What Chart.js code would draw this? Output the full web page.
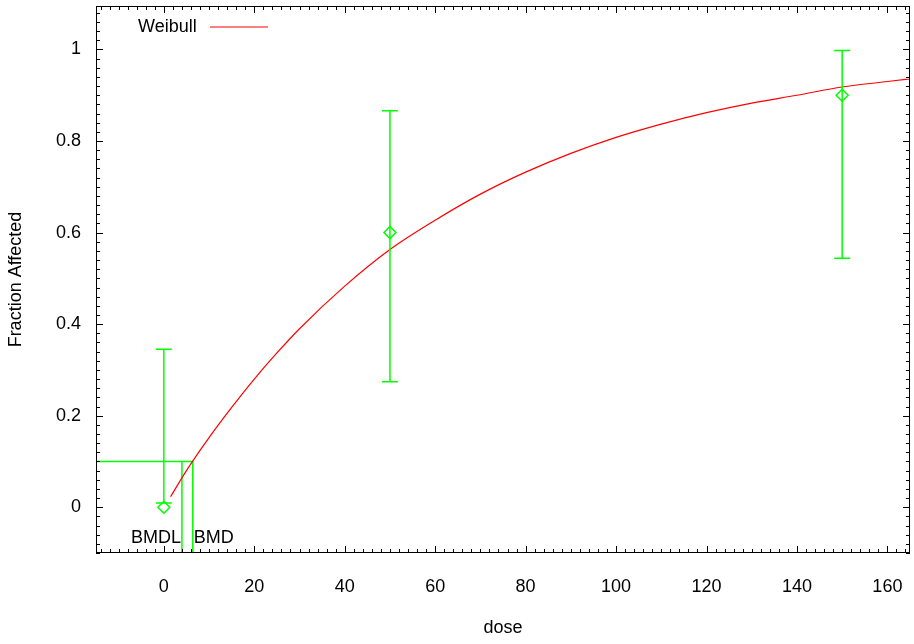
<!DOCTYPE html>
<html>
<head>
<meta charset="utf-8">
<script src="https://cdn.jsdelivr.net/npm/chart.js@4.4.0/dist/chart.umd.min.js"></script>
<style>
  html, body { margin: 0; padding: 0; background: #fff; }
  #wrap { width: 914px; height: 644px; }
</style>
</head>
<body>
<div id="wrap"><canvas id="myChart" width="914" height="644"></canvas></div>
<script>
// observed data (dose, fraction affected, confidence limits)
const doses = [0, 50, 150];
const fractions = [0, 0.6, 0.9];
const lowerCI = [0.009, 0.274, 0.544];
const upperCI = [0.345, 0.866, 0.998];

// fitted Weibull curve
const curveDose = [1.5, 5, 10, 15, 20, 25, 30, 40, 50, 60, 70, 80, 90, 100, 110, 120, 130, 140, 150, 160, 165];
const curveFrac = [0.023, 0.08, 0.152, 0.218, 0.28, 0.337, 0.39, 0.483, 0.563, 0.627, 0.684, 0.732, 0.773,
                   0.808, 0.837, 0.862, 0.883, 0.900, 0.918, 0.930, 0.936];

// benchmark dose lines
const bmr = 0.1;
const bmd = 6.4;
const bmdl = 4.0;

const xTicks = [0, 20, 40, 60, 80, 100, 120, 140, 160];
const yTicks = [0, 0.2, 0.4, 0.6, 0.8, 1];

const green = 'rgb(0,255,0)';
const red = 'rgb(255,0,0)';
const FONT = 'Liberation Sans, Arial, sans-serif';

// frame, inward ticks on all sides, error bars, BMD labels, legend
const gnuplotLook = {
  id: 'gnuplotLook',
  afterDatasetsDraw(chart) {
    const ctx = chart.ctx;
    const a = chart.chartArea;
    const xs = chart.scales.x, ys = chart.scales.y;
    ctx.save();

    // error bars
    ctx.strokeStyle = green;
    ctx.lineWidth = 1.5;
    doses.forEach((d, i) => {
      const px = xs.getPixelForValue(d);
      const top = ys.getPixelForValue(upperCI[i]);
      const bot = ys.getPixelForValue(lowerCI[i]);
      ctx.beginPath();
      ctx.moveTo(px, top); ctx.lineTo(px, bot);
      ctx.moveTo(px - 8, top); ctx.lineTo(px + 8, top);
      ctx.moveTo(px - 8, bot); ctx.lineTo(px + 8, bot);
      ctx.stroke();
    });

    // frame
    ctx.strokeStyle = '#000';
    ctx.lineWidth = 1;
    ctx.strokeRect(Math.round(a.left) + 0.5, Math.round(a.top) + 0.5,
                   Math.round(a.right - a.left) - 1, Math.round(a.bottom - a.top) - 1);

    // x ticks
    ctx.beginPath();
    for (let v = -14; v <= 164; v += 2) {
      const px = Math.round(xs.getPixelForValue(v)) + 0.5;
      const len = (v % 20 === 0) ? 7 : 4;
      ctx.moveTo(px, a.bottom); ctx.lineTo(px, a.bottom - len);
      ctx.moveTo(px, a.top); ctx.lineTo(px, a.top + len);
    }
    // y ticks
    for (let k = -5; k <= 54; k++) {
      const v = k * 0.02;
      const py = Math.round(ys.getPixelForValue(v)) + 0.5;
      const len = (k % 10 === 0) ? 7 : 4;
      ctx.moveTo(a.left, py); ctx.lineTo(a.left + len, py);
      ctx.moveTo(a.right, py); ctx.lineTo(a.right - len, py);
    }
    ctx.stroke();

    // BMD / BMDL labels
    ctx.fillStyle = '#000';
    ctx.font = '18px ' + FONT;
    ctx.textBaseline = 'middle';
    const ly = ys.getPixelForValue(-0.068);
    ctx.textAlign = 'right';
    ctx.fillText('BMDL', xs.getPixelForValue(bmdl) - 1, ly);
    ctx.textAlign = 'left';
    ctx.fillText('BMD', xs.getPixelForValue(bmd) + 1, ly);

    // legend
    ctx.textAlign = 'left';
    ctx.fillText(chart.data.datasets[0].label, 138, 27);
    ctx.strokeStyle = red;
    ctx.lineWidth = 1.2;
    ctx.beginPath();
    ctx.moveTo(210, 27); ctx.lineTo(268, 27);
    ctx.stroke();

    ctx.restore();
  }
};

function noPad(s) {
  s.paddingTop = 0; s.paddingBottom = 0;
  s.paddingLeft = 0; s.paddingRight = 0;
}

const ctx = document.getElementById('myChart').getContext('2d');
new Chart(ctx, {
  type: 'scatter',
  data: {
    datasets: [
      {
        label: 'Weibull',
        type: 'line',
        data: curveDose.map((d, i) => ({ x: d, y: curveFrac[i] })),
        borderColor: red,
        borderWidth: 1.2,
        pointRadius: 0,
        fill: false,
        cubicInterpolationMode: 'monotone'
      },
      {
        label: 'Data',
        data: doses.map((d, i) => ({ x: d, y: fractions[i] })),
        pointStyle: 'rectRot',
        pointRadius: 6,
        pointBorderWidth: 1.5,
        borderColor: green,
        backgroundColor: 'rgba(0,0,0,0)'
      },
      {
        label: 'BMD',
        type: 'line',
        data: [{ x: -15, y: bmr }, { x: bmd, y: bmr }, { x: bmd, y: -0.1 }],
        borderColor: green,
        borderWidth: 1.5,
        pointRadius: 0,
        tension: 0
      },
      {
        label: 'BMDL',
        type: 'line',
        data: [{ x: bmdl, y: bmr }, { x: bmdl, y: -0.1 }],
        borderColor: green,
        borderWidth: 1.5,
        pointRadius: 0,
        tension: 0
      }
    ]
  },
  options: {
    responsive: false,
    animation: false,
    layout: { autoPadding: false, padding: { top: 6, right: 4, left: 0, bottom: 0 } },
    plugins: {
      legend: { display: false },
      tooltip: { enabled: false }
    },
    scales: {
      x: {
        type: 'linear',
        min: -15,
        max: 165,
        grid: { display: false, drawTicks: false },
        border: { display: false },
        afterBuildTicks: s => { s.ticks = xTicks.map(v => ({ value: v })); },
        afterFit: s => { s.height = 91; noPad(s); },
        ticks: { color: '#000', font: { family: FONT, size: 18 }, padding: 23, maxRotation: 0, callback: v => String(v) },
        title: { display: true, text: 'dose', color: '#000', font: { family: FONT, size: 18 }, padding: { top: 0, bottom: 5 } }
      },
      y: {
        type: 'linear',
        min: -0.1,
        max: 1.095,
        grid: { display: false, drawTicks: false },
        border: { display: false },
        afterBuildTicks: s => { s.ticks = yTicks.map(v => ({ value: v })); },
        afterFit: s => { s.width = 96; noPad(s); },
        ticks: { color: '#000', font: { family: FONT, size: 18 }, padding: 15, callback: v => String(v) },
        title: { display: true, text: 'Fraction Affected', color: '#000', font: { family: FONT, size: 18 }, padding: { top: 5, bottom: 0 } }
      }
    }
  },
  plugins: [gnuplotLook]
});
</script>
</body>
</html>
